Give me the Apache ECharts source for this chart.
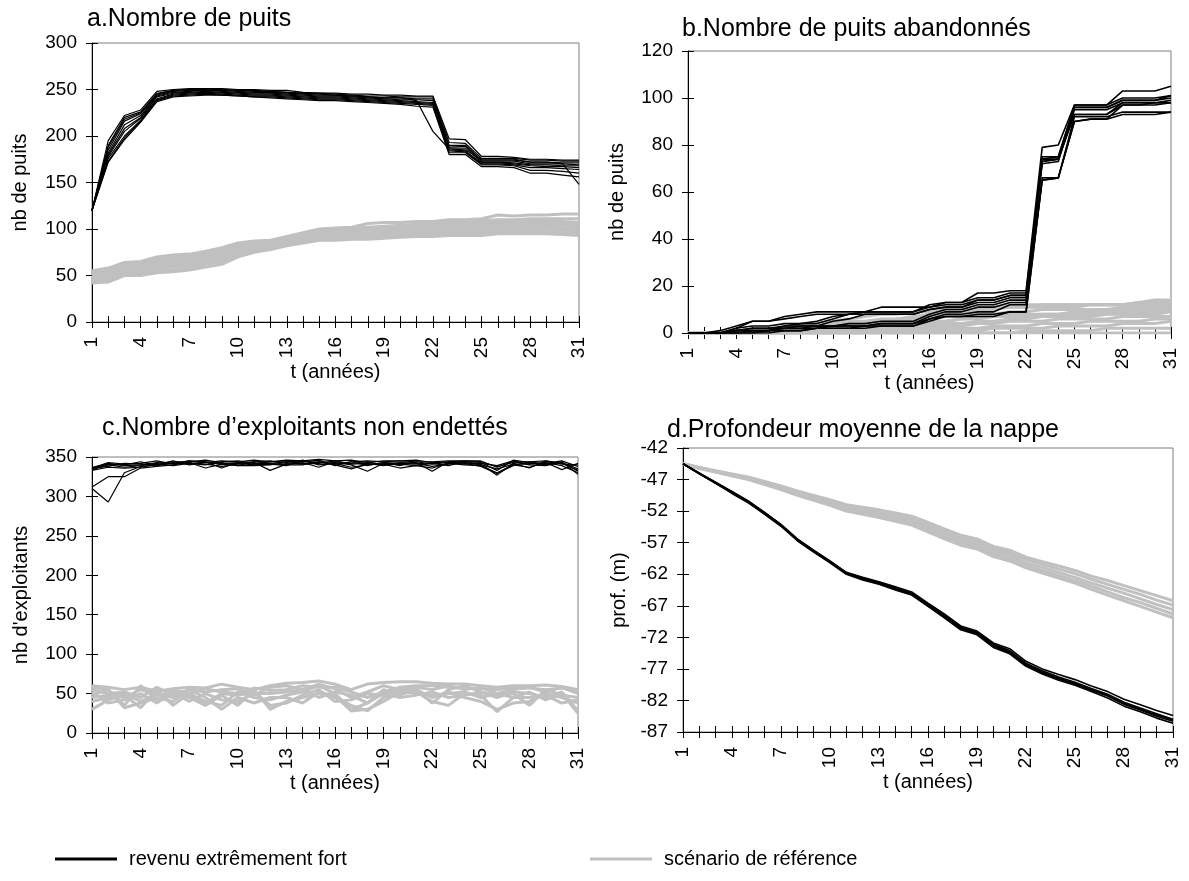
<!DOCTYPE html>
<html>
<head>
<meta charset="utf-8">
<script src="https://cdn.jsdelivr.net/npm/echarts@6/dist/echarts.min.js"></script>
<style>
  html, body { margin: 0; padding: 0; background: #fff; }
  #chart { width: 1189px; height: 881px; }
</style>
</head>
<body>
<div id="chart"></div>
<script>
// Years of simulation (x axis categories)
const years = ['1','2','3','4','5','6','7','8','9','10','11','12','13','14','15','16',
  '17','18','19','20','21','22','23','24','25','26','27','28','29','30','31'];

const nameHigh = 'revenu extrêmement fort';
const nameRef = 'scénario de référence';

// a. Nombre de puits — runs of the high-income scenario
const wellsHigh = [
  [120,195,222,228,248,250,251,251,251,250,250,249,249,247,246,246,245,245,244,244,243,243,197,196,178,178,177,175,175,174,174],
  [120,190,220,226,246,249,250,250,250,249,248,248,247,246,246,245,244,243,243,242,242,242,193,192,176,176,176,174,174,173,173],
  [120,185,216,224,244,248,249,249,249,248,247,247,246,245,244,244,243,242,241,241,240,240,190,190,174,174,174,172,172,171,171],
  [120,182,212,222,243,247,248,249,248,247,246,246,245,244,243,243,242,241,240,239,239,238,188,189,173,173,173,170,170,170,169],
  [120,180,208,220,242,246,247,248,247,246,245,245,244,243,242,242,241,240,239,238,237,236,187,187,172,172,171,169,169,168,168],
  [120,178,205,219,240,245,246,247,246,245,244,244,243,242,241,241,240,239,238,237,236,235,185,184,171,171,170,168,167,167,166],
  [120,176,200,217,239,244,245,246,245,244,243,243,242,241,240,240,239,238,237,236,235,234,184,183,170,170,169,166,166,165,164],
  [120,173,198,216,238,243,244,245,244,243,242,242,241,240,239,239,238,237,236,235,234,233,182,182,169,169,168,163,163,162,160],
  [120,172,196,215,237,242,243,244,244,243,242,241,240,239,238,238,237,236,235,234,232,231,180,180,167,167,166,160,160,158,156],
  [120,188,218,225,245,249,250,251,250,249,249,248,247,246,245,244,243,242,241,241,238,205,186,185,175,175,175,172,172,170,148]
];
// a. Nombre de puits — runs of the reference scenario
const wellsRef = [
  [55,58,64,65,70,72,73,76,80,85,87,88,92,96,100,101,102,106,107,107,108,108,110,110,111,115,114,115,115,116,116],
  [53,56,62,63,68,70,72,75,78,84,86,87,91,95,99,100,101,102,103,104,105,106,107,108,109,110,110,111,111,111,111],
  [52,55,61,62,66,68,70,73,76,82,85,86,90,94,98,99,100,101,102,103,104,105,106,106,107,108,108,108,108,108,107],
  [51,54,60,60,64,66,68,72,75,80,84,85,89,93,97,98,99,100,101,102,103,103,104,104,105,106,106,106,106,106,105],
  [50,53,58,59,63,65,67,71,74,79,82,84,88,92,96,97,98,99,99,100,101,101,102,102,103,104,104,104,104,104,103],
  [49,52,57,58,62,63,65,69,72,77,80,82,86,90,94,95,96,96,97,98,99,99,100,100,101,102,102,102,102,101,101],
  [48,50,55,56,60,61,63,67,70,75,79,81,85,88,92,93,94,94,95,96,97,97,98,99,99,100,100,100,100,99,99],
  [46,48,53,54,58,59,61,64,68,73,77,80,84,87,90,91,92,92,93,94,95,96,96,97,97,98,98,98,97,97,97],
  [44,45,51,52,55,56,58,62,65,72,76,79,83,86,89,89,90,91,91,92,93,94,94,95,95,96,96,96,96,95,95],
  [42,43,50,50,53,54,56,59,62,70,75,78,82,85,88,88,89,89,90,91,92,92,93,93,93,95,95,95,95,94,93]
];

// b. Nombre de puits abandonnés
const abandonedHigh = [
  [0,0,1,3,5,5,7,8,9,9,9,9,11,11,11,11,12,12,14,14,16,16,75,75,97,97,97,103,103,103,105],
  [0,0,0,2,5,5,6,7,8,8,8,9,9,9,9,11,13,13,17,17,18,18,79,80,97,97,97,100,100,100,101],
  [0,0,0,2,3,3,4,4,4,6,8,9,9,9,9,12,13,13,15,15,17,17,74,75,96,96,96,99,99,99,101],
  [0,0,0,1,2,2,3,4,5,7,8,8,8,8,8,10,11,11,14,14,16,16,74,74,96,96,96,99,99,99,100],
  [0,0,0,1,1,1,3,3,3,5,6,8,8,8,8,10,11,11,13,13,15,15,73,74,93,93,93,98,98,98,99],
  [0,0,0,1,1,1,2,3,3,3,4,4,5,5,5,8,10,10,12,12,14,14,73,74,93,93,93,97,97,97,98],
  [0,0,0,0,1,1,2,2,3,3,3,3,4,4,4,6,8,8,9,9,12,12,65,66,90,91,91,97,97,98,98],
  [0,0,0,0,0,1,1,1,2,2,2,3,3,3,3,5,7,7,7,7,9,9,65,66,90,91,91,93,93,93,94],
  [0,0,0,0,0,0,1,1,2,2,2,2,3,3,3,6,7,7,8,8,9,9,66,66,92,92,92,94,94,94,94],
  [0,0,0,1,2,2,2,2,2,3,3,3,4,4,4,7,9,9,11,11,13,13,72,73,95,95,95,98,98,98,98]
];
const abandonedRef = [
  [0,0,0,0,0,1,2,3,4,5,6,7,8,8,9,9,10,10,11,11,12,12,12,12,12,12,12,12,13,14,14],
  [0,0,0,0,0,1,1,2,3,4,5,5,6,6,7,8,9,9,10,10,11,11,12,12,12,12,12,12,12,12,12],
  [0,0,0,0,1,1,2,2,3,3,4,4,5,6,6,7,8,9,10,11,11,11,11,11,11,12,12,12,13,13,13],
  [0,0,0,0,0,0,1,1,2,2,3,3,4,5,5,6,7,7,8,8,9,9,10,10,10,10,10,11,11,11,11],
  [0,0,0,0,0,0,0,1,1,1,2,2,3,3,4,4,5,6,7,7,8,8,8,8,9,9,9,10,10,10,10],
  [0,0,0,0,0,0,0,1,1,2,2,3,3,3,4,5,5,6,6,7,7,7,8,8,8,8,8,9,9,9,9],
  [0,0,0,0,0,0,0,0,1,1,1,2,2,2,3,3,4,4,5,5,6,6,7,7,7,7,8,8,8,8,9],
  [0,0,0,0,0,0,0,0,0,0,1,1,1,2,2,2,3,3,4,4,5,5,5,6,6,6,6,7,7,7,7],
  [0,0,0,0,0,0,0,0,0,0,0,0,1,1,1,1,2,2,2,3,3,3,4,4,4,5,5,5,5,6,6],
  [0,0,0,0,0,0,0,0,0,0,0,0,0,0,0,1,1,1,1,2,2,2,2,3,3,3,3,4,4,4,5],
  [0,0,0,0,0,0,0,0,0,0,0,0,0,0,0,0,0,0,0,0,0,1,1,1,1,1,2,2,2,2,2],
  [0,0,0,0,0,0,0,0,0,0,0,0,0,0,0,0,0,0,0,0,0,0,0,0,0,0,0,0,0,0,0]
];

// c. Nombre d'exploitants non endettés
const farmersHigh = [
  [310,293,330,338,340,342,345,344,342,343,344,342,344,345,343,341,344,339,343,342,341,343,344,345,344,338,343,342,341,343,335],
  [312,325,325,336,338,340,343,341,338,341,343,333,341,342,344,340,335,341,341,336,339,336,342,340,339,330,340,337,343,339,330],
  [336,343,341,342,345,341,345,343,345,344,346,344,346,345,347,345,346,343,345,345,344,344,345,345,345,337,344,344,345,342,333],
  [335,342,339,340,342,344,344,346,343,339,344,345,342,344,346,339,344,345,344,345,346,343,343,344,343,333,346,343,342,345,338],
  [333,337,336,337,341,339,342,340,344,345,342,342,340,340,344,343,340,332,342,342,343,332,344,342,338,329,339,344,340,344,328],
  [337,341,340,344,339,343,341,344,336,343,341,344,345,343,337,344,342,344,340,341,339,342,339,344,341,327,342,336,345,341,340],
  [334,340,337,339,343,342,343,336,341,339,339,340,343,341,342,345,341,342,339,343,342,338,341,343,340,335,341,341,343,334,342],
  [336,338,342,341,340,345,340,343,341,342,340,341,339,346,340,342,337,340,343,339,344,341,343,341,342,339,345,340,339,343,332]
];
const farmersRef = [
  [60,58,55,58,53,56,58,57,62,58,55,60,63,64,66,62,55,62,64,65,65,63,62,62,60,58,60,60,61,59,55],
  [58,55,35,60,42,55,50,56,52,50,57,54,55,60,58,58,52,45,52,58,60,60,58,57,56,55,57,57,55,57,52],
  [55,50,52,45,58,48,55,52,55,56,48,58,60,55,62,56,45,52,60,55,58,55,60,55,58,50,55,58,52,58,50],
  [30,42,48,32,55,35,50,40,35,52,45,42,48,52,60,50,30,38,55,48,56,38,55,60,52,48,50,35,55,48,45],
  [52,38,42,50,38,52,45,35,48,35,55,30,40,45,50,45,35,28,45,50,52,40,35,50,48,27,45,45,48,38,42],
  [48,55,32,38,45,40,55,45,30,45,38,45,45,38,52,47,28,30,40,52,55,45,52,45,40,30,38,40,50,45,38],
  [45,48,45,55,48,52,40,50,42,40,50,50,52,55,45,52,48,38,50,45,48,52,45,48,52,45,52,50,45,52,28],
  [40,45,50,40,50,45,48,38,50,48,52,35,38,48,55,40,42,50,48,55,50,48,50,52,45,50,45,52,42,50,25]
];

// d. Profondeur moyenne de la nappe (m)
const depthHigh = [
  [-44.5,-46,-47.4,-48.9,-50.4,-52.2,-54.1,-56.4,-58.2,-59.9,-61.7,-62.5,-63.2,-64.0,-64.8,-66.6,-68.3,-70.2,-71.0,-72.9,-73.8,-75.8,-77.0,-77.9,-78.7,-79.7,-80.6,-81.8,-82.7,-83.6,-84.4],
  [-44.5,-46,-47.5,-49,-50.5,-52.3,-54.2,-56.5,-58.3,-60,-61.8,-62.6,-63.3,-64.2,-65,-66.8,-68.5,-70.4,-71.2,-73.1,-74.1,-76.1,-77.3,-78.3,-79.1,-80.1,-81,-82.3,-83.2,-84.1,-85],
  [-44.5,-46.1,-47.6,-49.1,-50.6,-52.4,-54.3,-56.6,-58.4,-60.1,-61.9,-62.8,-63.5,-64.4,-65.2,-67.0,-68.7,-70.6,-71.4,-73.4,-74.4,-76.4,-77.6,-78.6,-79.4,-80.4,-81.3,-82.6,-83.5,-84.5,-85.3],
  [-44.5,-46.1,-47.6,-49.2,-50.7,-52.5,-54.4,-56.7,-58.5,-60.2,-62.0,-62.9,-63.6,-64.5,-65.3,-67.1,-68.9,-70.8,-71.6,-73.6,-74.6,-76.6,-77.8,-78.8,-79.6,-80.6,-81.6,-82.9,-83.8,-84.8,-85.6],
  [-44.5,-46,-47.5,-49,-50.5,-52.3,-54.2,-56.5,-58.3,-60,-61.8,-62.7,-63.4,-64.3,-65.1,-66.9,-68.6,-70.5,-71.3,-73.2,-74.3,-76.3,-77.5,-78.5,-79.3,-80.3,-81.2,-82.5,-83.4,-84.3,-85.1]
];
const depthRef = [
  [-44.5,-45.1,-45.6,-46.1,-46.6,-47.3,-48.0,-48.8,-49.5,-50.2,-51.0,-51.4,-51.8,-52.3,-52.8,-53.8,-54.8,-55.8,-56.4,-57.6,-58.2,-59.3,-60.0,-60.7,-61.4,-62.3,-63.0,-63.8,-64.6,-65.4,-66.2],
  [-44.5,-45.1,-45.7,-46.2,-46.7,-47.4,-48.2,-49.0,-49.7,-50.5,-51.3,-51.7,-52.1,-52.6,-53.2,-54.2,-55.2,-56.2,-56.8,-58.0,-58.6,-59.7,-60.4,-61.2,-61.9,-62.8,-63.6,-64.4,-65.2,-66.1,-66.9],
  [-44.5,-45.2,-45.7,-46.3,-46.8,-47.6,-48.3,-49.2,-49.9,-50.7,-51.5,-52.0,-52.4,-53.0,-53.5,-54.6,-55.6,-56.6,-57.2,-58.4,-59.0,-60.2,-60.9,-61.7,-62.5,-63.4,-64.2,-65.0,-65.9,-66.8,-67.6],
  [-44.5,-45.2,-45.8,-46.4,-46.9,-47.7,-48.5,-49.4,-50.1,-50.9,-51.8,-52.3,-52.7,-53.3,-53.9,-55.0,-56.0,-57.0,-57.6,-58.8,-59.5,-60.6,-61.4,-62.2,-63.0,-63.9,-64.8,-65.7,-66.5,-67.4,-68.3],
  [-44.5,-45.2,-45.8,-46.4,-47.0,-47.8,-48.6,-49.5,-50.3,-51.1,-52.0,-52.5,-53.0,-53.6,-54.2,-55.3,-56.4,-57.4,-58.0,-59.2,-59.9,-61.0,-61.8,-62.6,-63.4,-64.4,-65.3,-66.2,-67.1,-68.0,-68.9]
];

const FONT = "'Liberation Sans', Arial, sans-serif";
const BLACK = '#000000';
const GREY = '#c0c0c0';

// Panel layout: plot rectangle, y scale and texts
const panels = [
  { grid: { left: 92, top: 43, width: 487, height: 279 }, min: 0, max: 300, interval: 50,
    yName: 'nb de puits', yGap: 62, title: 'a.Nombre de puits', tLeft: 87, tTop: 7,
    high: wellsHigh, ref: wellsRef, highWidth: 1.2 },
  { grid: { left: 688, top: 51, width: 483, height: 282 }, min: 0, max: 120, interval: 20,
    yName: 'nb de puits', yGap: 61, title: 'b.Nombre de puits abandonnés', tLeft: 682, tTop: 17,
    high: abandonedHigh, ref: abandonedRef, highWidth: 1.6 },
  { grid: { left: 92, top: 457, width: 486, height: 276 }, min: 0, max: 350, interval: 50,
    yName: "nb d'exploitants", yGap: 61, title: 'c.Nombre d’exploitants non endettés', tLeft: 102, tTop: 416,
    high: farmersHigh, ref: farmersRef, highWidth: 1.2 },
  { grid: { left: 683, top: 448, width: 490, height: 284 }, min: -87, max: -42, interval: 5,
    yName: 'prof. (m)', yGap: 54, title: 'd.Profondeur moyenne de la nappe', tLeft: 667, tTop: 418,
    high: depthHigh, ref: depthRef, highWidth: 1.6 }
];

const grids = [], xAxes = [], yAxes = [], titles = [], series = [];

panels.forEach((p, i) => {
  grids.push(Object.assign({ show: true, borderColor: '#7f7f7f', borderWidth: 1, containLabel: false }, p.grid));
  titles.push({
    text: p.title, left: p.tLeft, top: p.tTop, padding: 0,
    textStyle: { fontFamily: FONT, fontSize: 25, fontWeight: 'normal', color: '#000' }
  });
  // main axes: line, outer ticks, labels, names
  xAxes.push({
    type: 'category', gridIndex: i, data: years, boundaryGap: false,
    axisLine: { show: true, lineStyle: { color: '#000', width: 1 } },
    axisTick: { show: true, interval: 0, length: 6, lineStyle: { color: '#000', width: 1 } },
    axisLabel: { interval: 2, rotate: 90, margin: 15, fontFamily: FONT, fontSize: 19, color: '#000' },
    splitLine: { show: false },
    name: 't (années)', nameLocation: 'middle', nameGap: 36,
    nameTextStyle: { fontFamily: FONT, fontSize: 20, color: '#000' }
  });
  yAxes.push({
    type: 'value', gridIndex: i, min: p.min, max: p.max, interval: p.interval,
    axisLine: { show: true, lineStyle: { color: '#000', width: 1 } },
    axisTick: { show: true, length: 6, lineStyle: { color: '#000', width: 1 } },
    axisLabel: { margin: 15, fontFamily: FONT, fontSize: 19, color: '#000' },
    splitLine: { show: false },
    name: p.yName, nameLocation: 'middle', nameGap: p.yGap,
    nameTextStyle: { fontFamily: FONT, fontSize: 20, color: '#000' }
  });
});

// companion axes giving the inner half of the crossing tick marks
panels.forEach((p, i) => {
  xAxes.push({
    type: 'category', gridIndex: i, data: years, boundaryGap: false, position: 'bottom',
    axisLine: { show: false },
    axisTick: { show: true, inside: true, interval: 0, length: 6, lineStyle: { color: '#000', width: 1 } },
    axisLabel: { show: false }, splitLine: { show: false }
  });
  yAxes.push({
    type: 'value', gridIndex: i, min: p.min, max: p.max, interval: p.interval, position: 'left',
    axisLine: { show: false },
    axisTick: { show: true, inside: true, length: 6, lineStyle: { color: '#000', width: 1 } },
    axisLabel: { show: false }, splitLine: { show: false }
  });
});

function addRuns(runs, axisIdx, name, color, width, z) {
  runs.forEach(values => {
    series.push({
      type: 'line', name: name, xAxisIndex: axisIdx, yAxisIndex: axisIdx,
      data: values, symbol: 'none', showSymbol: false, silent: true,
      lineStyle: { color: color, width: width }, itemStyle: { color: color },
      z: z, animation: false
    });
  });
}

panels.forEach((p, i) => {
  addRuns(p.ref, i, nameRef, GREY, 3, 2);
  addRuns(p.high, i, nameHigh, BLACK, p.highWidth, 3);
});

const legendText = { fontFamily: FONT, fontSize: 20, color: '#000', padding: [0, 0, 0, 7] };

const option = {
  backgroundColor: '#ffffff',
  animation: false,
  title: titles,
  grid: grids,
  xAxis: xAxes,
  yAxis: yAxes,
  legend: [
    { data: [{ name: nameHigh, icon: 'rect' }], left: 55, top: 849, padding: 0, itemWidth: 62, itemHeight: 3,
      textStyle: legendText, selectedMode: false },
    { data: [{ name: nameRef, icon: 'rect' }], left: 590, top: 849, padding: 0, itemWidth: 62, itemHeight: 3,
      textStyle: legendText, selectedMode: false }
  ],
  series: series
};

const chart = echarts.init(document.getElementById('chart'), null, { renderer: 'canvas' });
chart.setOption(option);
</script>
</body>
</html>
